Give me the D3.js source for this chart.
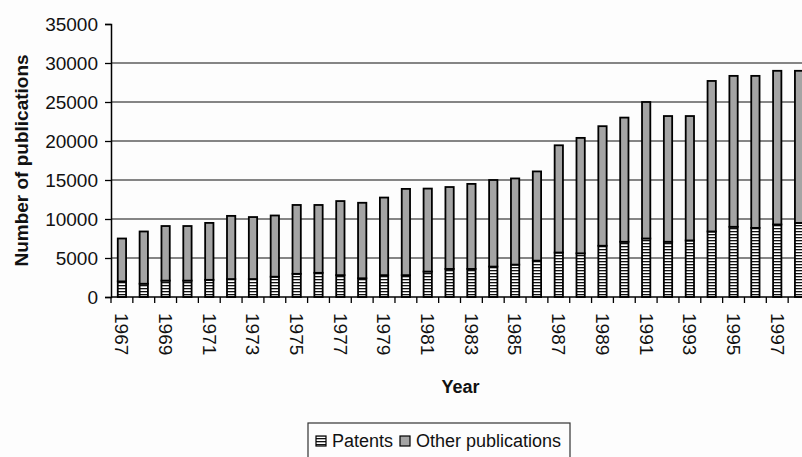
<!DOCTYPE html>
<html>
<head>
<meta charset="utf-8">
<script src="https://cdn.jsdelivr.net/npm/d3@7/dist/d3.min.js"></script>
<style>
  html, body { margin: 0; padding: 0; background: #fdfdfd; }
  svg { display: block; font-family: Arial, "Liberation Sans", sans-serif; }
</style>
</head>
<body>
<svg id="chart" width="802" height="457"></svg>
<script>
// Publication counts per year, split into patents and other publications
const years = ["1967","1968","1969","1970","1971","1972","1973","1974","1975","1976",
               "1977","1978","1979","1980","1981","1982","1983","1984","1985","1986",
               "1987","1988","1989","1990","1991","1992","1993","1994","1995","1996",
               "1997","1998"];
const patents = [2000,1700,2100,2100,2200,2300,2300,2600,2970,3100,
                 2800,2400,2800,2800,3260,3600,3600,3900,4150,4660,
                 5700,5600,6570,7080,7500,7080,7250,8400,9000,8860,
                 9300,9500];
const otherPublications = [5500,6700,7000,7000,7300,8100,7950,7850,8830,8700,
                           9500,9680,9950,11060,10640,10500,10900,11100,11050,11440,
                           13750,14800,15330,15920,17500,16120,15950,19300,19350,19490,
                           19700,19500];
const yTicks = [0,5000,10000,15000,20000,25000,30000,35000];
const gridValues = [5000,10000,15000,20000,25000,30000];
const yearLabels = ["1967","1969","1971","1973","1975","1977","1979","1981",
                    "1983","1985","1987","1989","1991","1993","1995","1997"];
const seriesNames = ["Patents","Other publications"];

const svg = d3.select("#chart");

// plot area (extends slightly past the right edge of the page)
const plotLeft = 111, plotRight = 810, plotTop = 24, plotBottom = 297;

const x = d3.scaleBand().domain(years).range([plotLeft, plotRight]).padding(0);
const y = d3.scaleLinear().domain([0, 35000]).range([plotBottom, plotTop]);

// striped fill used for the patents segment
const defs = svg.append("defs");
const pat = defs.append("pattern")
  .attr("id", "stripes")
  .attr("patternUnits", "userSpaceOnUse")
  .attr("width", 6).attr("height", 3);
pat.append("rect").attr("width", 6).attr("height", 3).attr("fill", "#ffffff");
pat.append("rect").attr("width", 6).attr("height", 1.3).attr("fill", "#111111");

// horizontal gridlines
svg.append("g").selectAll("line").data(gridValues).join("line")
  .attr("x1", plotLeft).attr("x2", plotRight)
  .attr("y1", d => y(d)).attr("y2", d => y(d))
  .attr("stroke", "#5c5c5c").attr("stroke-width", 1.6);

// stacked bars
const rows = years.map((yr, i) => ({ year: yr, patents: patents[i], other: otherPublications[i] }));
const stack = d3.stack().keys(["patents", "other"])(rows);
const fills = { patents: "url(#stripes)", other: "#a4a4a4" };
const barW = x.bandwidth() * 0.38;

svg.append("g").selectAll("g").data(stack).join("g")
  .attr("fill", d => fills[d.key])
  .selectAll("rect").data(d => d).join("rect")
    .attr("x", d => x(d.data.year) + x.bandwidth() / 2 - barW / 2)
    .attr("width", barW)
    .attr("y", d => y(d[1]))
    .attr("height", d => y(d[0]) - y(d[1]))
    .attr("stroke", "#000").attr("stroke-width", 1.8);

// y axis
const yAxis = d3.axisLeft(y).tickValues(yTicks).tickSize(6).tickPadding(7).tickFormat(d3.format("d"));
const gy = svg.append("g").attr("transform", `translate(${plotLeft},0)`).call(yAxis);
gy.select(".domain").attr("stroke", "#000").attr("stroke-width", 1.5);
gy.selectAll(".tick line").attr("stroke", "#000").attr("stroke-width", 1.3);
gy.selectAll(".tick text").attr("font-size", 19).attr("fill", "#111")
  .attr("font-family", "Arial, 'Liberation Sans', sans-serif");

// x axis: baseline plus ticks on category boundaries
svg.append("line").attr("x1", plotLeft).attr("x2", plotRight)
  .attr("y1", plotBottom).attr("y2", plotBottom)
  .attr("stroke", "#000").attr("stroke-width", 1.5);
const boundaries = years.map(d => x(d));
svg.append("g").selectAll("line").data(boundaries).join("line")
  .attr("x1", d => d).attr("x2", d => d)
  .attr("y1", plotBottom).attr("y2", plotBottom + 6)
  .attr("stroke", "#000").attr("stroke-width", 1.3);

// rotated year labels
svg.append("g").selectAll("text").data(yearLabels).join("text")
  .attr("transform", d => `translate(${x(d) + x.bandwidth() / 2},313) rotate(90)`)
  .attr("text-anchor", "start")
  .attr("dy", "0.35em")
  .attr("font-size", 19).attr("fill", "#111")
  .text(d => d);

// axis titles
svg.append("text")
  .attr("x", (plotLeft + plotRight) / 2).attr("y", 393)
  .attr("text-anchor", "middle")
  .attr("font-size", 18).attr("font-weight", "bold").attr("fill", "#111")
  .text("Year");

svg.append("text")
  .attr("transform", `translate(28,${(plotTop + plotBottom) / 2}) rotate(-90)`)
  .attr("text-anchor", "middle")
  .attr("font-size", 19).attr("font-weight", "bold").attr("fill", "#111")
  .text("Number of publications");

// legend
const lg = svg.append("g");
lg.append("rect").attr("x", 308).attr("y", 423).attr("width", 262).attr("height", 40)
  .attr("fill", "none").attr("stroke", "#333").attr("stroke-width", 1.2);
const legendItems = [
  { name: seriesNames[0], fill: "url(#stripes)", mx: 316 },
  { name: seriesNames[1], fill: "#a4a4a4", mx: 400 }
];
legendItems.forEach(it => {
  lg.append("rect").attr("x", it.mx).attr("y", 436).attr("width", 10).attr("height", 10)
    .attr("fill", it.fill).attr("stroke", "#000").attr("stroke-width", 1.2);
  lg.append("text").attr("x", it.mx + 16).attr("y", 447)
    .attr("font-size", 18).attr("fill", "#111").text(it.name);
});
</script>
</body>
</html>
